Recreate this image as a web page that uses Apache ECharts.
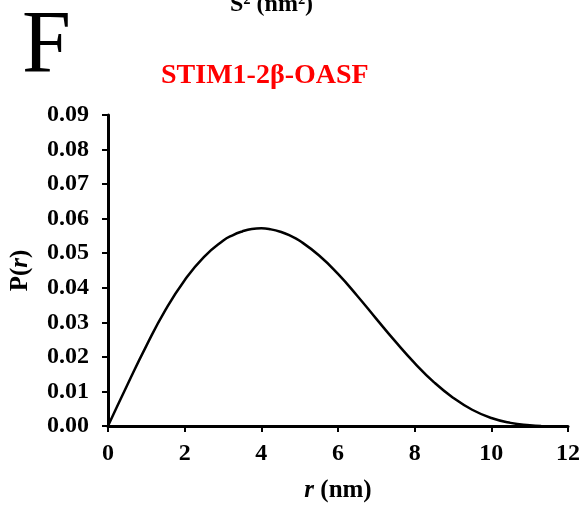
<!DOCTYPE html>
<html>
<head>
<meta charset="utf-8">
<script src="https://cdn.jsdelivr.net/npm/echarts@6/dist/echarts.min.js"></script>
<style>
  html, body { margin: 0; padding: 0; background: #fff; }
  #chart { width: 583px; height: 508px; }
</style>
</head>
<body>
<div id="chart"></div>
<script>
// distance r (nm) and P(r)
const rValues = [0, 0.5, 1.0, 1.5, 2.0, 2.5, 3.0, 3.25, 3.5, 3.75, 4.0, 4.25, 4.5, 4.75,
  5.0, 5.5, 6.0, 6.5, 7.0, 7.5, 8.0, 8.5, 9.0, 9.5, 10.0, 10.5, 11.0, 11.3];
const pValues = [0, 0.0118, 0.0232, 0.0336, 0.0422, 0.0489, 0.0536, 0.0552, 0.0563,
  0.0570, 0.0572, 0.0569, 0.0562, 0.0551, 0.0536, 0.0494, 0.0440, 0.0377, 0.0310,
  0.0244, 0.0182, 0.0127, 0.0082, 0.0047, 0.0023, 0.0009, 0.0002, 0];

const FONT = "'Liberation Serif', 'Times New Roman', serif";

const chart = echarts.init(document.getElementById('chart'));

const axisCommon = {
  axisLine: { show: true, lineStyle: { color: '#000', width: 3 } },
  axisTick: { show: true, length: 6, lineStyle: { color: '#000', width: 2 } },
  splitLine: { show: false },
  axisLabel: { color: '#000', fontFamily: FONT, fontWeight: 'bold', fontSize: 24 },
};

const nameRich = {
  i: { fontFamily: FONT, fontWeight: 'bold', fontStyle: 'italic', fontSize: 25, color: '#000' },
  n: { fontFamily: FONT, fontWeight: 'bold', fontSize: 25, color: '#000' },
};

chart.setOption({
  backgroundColor: '#fff',
  animation: false,
  grid: { left: 107, right: 15, top: 115, bottom: 81 },
  graphic: [
    {
      type: 'text', left: 22, top: 4,
      style: { text: 'F', font: `88px ${FONT}`, fill: '#000' },
    },
    {
      type: 'text', left: 230, top: -7,
      style: { text: 'S² (nm²)', font: `bold 24px ${FONT}`, fill: '#000' },
    },
    {
      type: 'text', left: 161, top: 62,
      style: { text: 'STIM1-2β-OASF', font: `bold 28px ${FONT}`, fill: '#ff0000' },
    },
  ],
  xAxis: {
    ...axisCommon,
    type: 'value',
    min: 0, max: 12, interval: 2,
    axisLabel: { ...axisCommon.axisLabel, margin: 16 },
    name: '{i|r}{n| (nm)}',
    nameLocation: 'middle',
    nameGap: 52,
    nameTextStyle: { rich: nameRich },
  },
  yAxis: {
    ...axisCommon,
    type: 'value',
    min: 0, max: 0.09, interval: 0.01,
    axisLabel: {
      ...axisCommon.axisLabel, margin: 19,
      formatter: v => v.toFixed(2),
    },
    name: '{n|P(}{i|r}{n|)}',
    nameLocation: 'middle',
    nameGap: 75,
    nameTextStyle: { rich: nameRich },
  },
  series: [
    {
      type: 'line',
      data: rValues.map((r, i) => [r, pValues[i]]),
      smooth: true,
      showSymbol: false,
      lineStyle: { color: '#000', width: 2.5 },
    },
  ],
});
</script>
</body>
</html>
